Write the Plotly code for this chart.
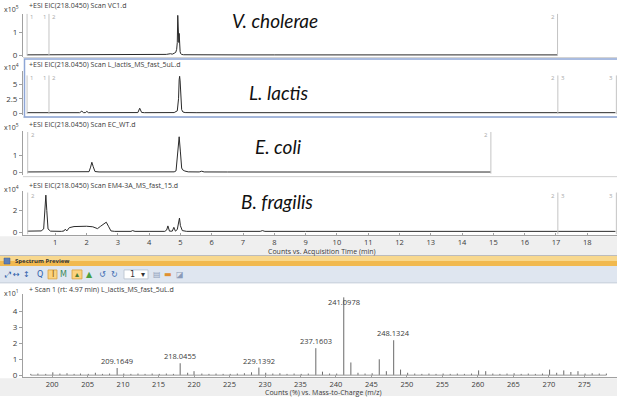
import plotly.graph_objects as go

W, H = 617, 399

# ---------------- data ----------------
# V. cholerae EIC (x10^5 counts)
vc_t = [0.10, 0.40, 0.80, 1.20, 1.60, 2.00, 2.40, 2.80, 3.20, 3.60,
        4.00, 4.30, 4.55, 4.68, 4.74, 4.80, 4.85, 4.88, 4.90, 4.915,
        4.925, 4.94, 4.95, 4.96, 4.975, 4.99, 5.01, 5.04, 5.10, 5.40,
        6.00, 7.00, 8.00, 9.00, 10.0, 11.0, 12.0, 13.0, 14.0, 15.0,
        16.0, 17.05]
vc_i = [0.01, 0.01, 0.012, 0.01, 0.012, 0.01, 0.012, 0.01, 0.012, 0.015,
        0.015, 0.02, 0.03, 0.06, 0.04, 0.08, 0.12, 0.25, 0.55, 1.74,
        0.75, 1.30, 0.55, 0.95, 0.35, 0.15, 0.06, 0.03, 0.015, 0.01,
        0.01, 0.008, 0.008, 0.008, 0.008, 0.008, 0.008, 0.008, 0.008, 0.008,
        0.008, 0.008]

# L. lactis EIC (x10^4 counts)
ll_t = [0.10, 0.50, 1.00, 1.50, 1.78, 1.85, 1.90, 1.96, 2.01, 2.06,
        2.50, 3.00, 3.50, 3.64, 3.70, 3.76, 3.85, 4.30, 4.80, 4.90,
        4.94, 4.96, 4.975, 4.99, 5.01, 5.04, 5.08, 5.15, 5.50, 6.50,
        8.00, 9.60, 10.0, 10.4, 12.0, 14.0, 16.0, 16.4, 16.6, 17.5,
        18.90]
ll_i = [0.08, 0.08, 0.08, 0.08, 0.08, 0.35, 0.10, 0.08, 0.30, 0.08,
        0.08, 0.08, 0.08, 0.10, 0.85, 0.12, 0.08, 0.08, 0.10, 0.40,
        2.50, 5.80, 6.40, 5.60, 2.20, 0.60, 0.20, 0.10, 0.08, 0.08,
        0.08, 0.10, 0.18, 0.10, 0.08, 0.08, 0.10, 0.18, 0.10, 0.08,
        0.08]

# E. coli EIC (x10^5 counts)
ec_t = [0.10, 0.50, 1.00, 1.20, 1.50, 2.00, 2.08, 2.13, 2.17, 2.21,
        2.27, 2.40, 3.00, 3.50, 4.00, 4.50, 4.80, 4.86, 4.91, 4.96,
        5.00, 5.04, 5.07, 5.10, 5.14, 5.25, 5.60, 5.68, 5.76, 6.50,
        8.00, 10.0, 12.0, 14.0, 14.92]
ec_i = [0.015, 0.012, 0.012, 0.02, 0.012, 0.015, 0.03, 0.30, 0.59, 0.35,
        0.04, 0.015, 0.012, 0.012, 0.012, 0.015, 0.02, 0.08, 1.00, 2.10,
        1.20, 0.25, 0.14, 0.10, 0.07, 0.02, 0.015, 0.06, 0.015, 0.012,
        0.012, 0.01, 0.01, 0.01, 0.01]

# B. fragilis EIC (x10^4 counts)
bf_t = [0.10, 0.30, 0.55, 0.63, 0.67, 0.70, 0.73, 0.77, 0.85, 1.00,
        1.20, 1.28, 1.32, 1.37, 1.45, 1.60, 1.80, 2.00, 2.20, 2.35,
        2.45, 2.55, 2.63, 2.70, 2.78, 2.90, 3.20, 3.42, 3.47, 3.55,
        4.00, 4.50, 4.56, 4.60, 4.65, 4.74, 4.79, 4.84, 4.90, 4.94,
        4.97, 5.00, 5.06, 5.20, 6.00, 7.00, 7.55, 7.62, 7.70, 9.00,
        11.0, 13.0, 15.0, 15.65, 15.75, 15.90, 16.0, 17.0, 18.90]
bf_i = [0.10, 0.12, 0.12, 0.30, 2.00, 3.40, 2.00, 0.30, 0.10, 0.08,
        0.08, 0.12, 0.28, 0.12, 0.42, 0.52, 0.55, 0.55, 0.50, 0.33,
        0.55, 0.80, 0.92, 0.55, 0.12, 0.08, 0.08, 0.08, 0.15, 0.08,
        0.08, 0.08, 0.20, 0.58, 0.10, 0.10, 0.45, 0.10, 0.25, 0.80,
        1.30, 0.60, 0.15, 0.08, 0.08, 0.08, 0.08, 0.15, 0.08, 0.08,
        0.08, 0.08, 0.08, 0.08, 0.14, 0.14, 0.08, 0.08, 0.08]

# segment markers (time, label left of line, label right of line)
vc_seg = [(0.10, "", "1"), (0.80, "1", "2"), (17.05, "2", "")]
ll_seg = [(0.10, "", "1"), (0.80, "1", "2"), (17.06, "2", "3"), (18.93, "3", "")]
ec_seg = [(0.12, "", "2"), (14.92, "2", "")]
bf_seg = [(0.12, "", "2"), (17.06, "2", "3"), (18.93, "3", "")]

time_ticks = list(range(1, 19))

# mass spectrum (Counts % x10^1)
ms_mz = [197.0, 198.0, 199.1, 200.1, 201.1, 202.1, 203.1, 204.0, 205.1, 206.1,
         207.1, 208.1, 209.1649, 210.1, 211.1, 212.1, 213.1, 214.1, 215.1, 216.1,
         217.1, 218.0455, 219.1, 220.0, 221.1, 222.1, 223.1, 224.1, 225.1, 226.1,
         227.1, 228.1, 229.1392, 230.1, 231.1, 232.1, 233.1, 234.1, 235.1, 236.1,
         237.1603, 238.1, 239.1, 240.1, 241.0978, 242.1, 243.1, 244.1, 245.1, 246.1,
         247.1, 248.1324, 249.1, 250.1, 251.1, 252.1, 253.1, 254.1, 255.1, 256.1,
         257.1, 258.1, 259.1, 260.1, 261.1, 262.1, 263.1, 264.1, 265.1, 266.1,
         267.1, 268.1, 269.1, 270.1, 271.1, 272.1, 273.1, 274.1, 275.1, 276.1,
         277.1, 278.1]
ms_int = [0.08, 0.10, 0.08, 0.18, 0.10, 0.12, 0.08, 0.10, 0.08, 0.15,
          0.08, 0.10, 0.45, 0.10, 0.08, 0.10, 0.08, 0.10, 0.08, 0.10,
          0.08, 0.75, 0.15, 0.25, 0.10, 0.08, 0.10, 0.08, 0.08, 0.10,
          0.12, 0.18, 0.48, 0.15, 0.10, 0.12, 0.08, 0.10, 0.08, 0.10,
          1.70, 0.22, 0.10, 0.10, 4.90, 0.80, 0.15, 0.10, 0.12, 1.00,
          0.25, 2.20, 0.35, 0.15, 0.10, 0.08, 0.10, 0.08, 0.10, 0.08,
          0.10, 0.08, 0.10, 0.30, 0.25, 0.10, 0.08, 0.10, 0.12, 0.08,
          0.10, 0.08, 0.10, 0.35, 0.15, 0.30, 0.20, 0.25, 0.10, 0.12,
          0.10, 0.10]
ms_labeled = ["209.1649", "218.0455", "229.1392", "237.1603", "241.0978", "248.1324"]
mz_ticks = list(range(200, 280, 5))

# ---------------- layout helpers ----------------
FONT = "Open Sans"
TXT = "#3a3a3a"
AX = "#a0a0a0"


def px(x):
    return x / W


def py(y):
    return 1 - y / H


def yrange(top, bottom, zero, ppu):
    return [-(bottom - zero) / ppu, (zero - top) / ppu]


panels = [
    dict(t=vc_t, i=vc_i, top=14, bottom=57, zero=55.5, ppu=23, ticks=[0, 1], tt=["0", "1"],
         exp="5", head="+ESI EIC(218.0450) Scan VC1.d", hy=6, seg=vc_seg, sy=17,
         name="V. cholerae", ny=21, nx=275),
    dict(t=ll_t, i=ll_i, top=72, bottom=116, zero=114, ppu=5.8, ticks=[0, 2.5, 5], tt=["0", "2.5", "5"],
         exp="4", head="+ESI EIC(218.0450) Scan L_lactis_MS_fast_5uL.d", hy=65, seg=ll_seg, sy=79,
         name="L. lactis", ny=93, nx=278),
    dict(t=ec_t, i=ec_i, top=132, bottom=176, zero=173.5, ppu=17, ticks=[0, 1], tt=["0", "1"],
         exp="5", head="+ESI EIC(218.0450) Scan EC_WT.d", hy=125, seg=ec_seg, sy=136,
         name="E. coli", ny=148, nx=278),
    dict(t=bf_t, i=bf_i, top=192, bottom=237, zero=234, ppu=11, ticks=[0, 2], tt=["0", "2"],
         exp="4", head="+ESI EIC(218.0450) Scan EM4-3A_MS_fast_15.d", hy=187, seg=bf_seg, sy=197,
         name="B. fragilis", ny=203, nx=277),
]

fig = go.Figure()
shapes = []
annotations = []
layout_axes = {}

# background strips (behind everything)
shapes.append(dict(type="rect", xref="paper", yref="paper", x0=0, x1=1, y0=py(257), y1=py(238),
                   fillcolor="#efefef", line=dict(width=0), layer="below"))
shapes.append(dict(type="rect", xref="paper", yref="paper", x0=0, x1=1, y0=0, y1=py(381),
                   fillcolor="#efefef", line=dict(width=0), layer="below"))

for k, p in enumerate(panels, start=1):
    xa = "x" if k == 1 else f"x{k}"
    ya = "y" if k == 1 else f"y{k}"
    fig.add_trace(go.Scatter(x=p["t"], y=p["i"], mode="lines", xaxis=xa, yaxis=ya,
                             line=dict(color="#2a2a2a", width=1), hoverinfo="skip", showlegend=False))
    xkey = "xaxis" if k == 1 else f"xaxis{k}"
    ykey = "yaxis" if k == 1 else f"yaxis{k}"
    last = (k == len(panels))
    layout_axes[xkey] = dict(domain=[px(23), 1], range=[-0.03, 18.95], anchor=ya,
                             showgrid=False, zeroline=False, fixedrange=True,
                             showline=last, linecolor=AX, linewidth=1,
                             ticks="inside" if last else "", ticklen=2, tickcolor=AX,
                             showticklabels=last, tickvals=time_ticks,
                             tickfont=dict(size=7.5, color=TXT, family=FONT))
    layout_axes[ykey] = dict(domain=[py(p["bottom"]), py(p["top"])],
                             range=yrange(p["top"], p["bottom"], p["zero"], p["ppu"]),
                             anchor=xa, showgrid=False, zeroline=False, fixedrange=True,
                             showline=True, linecolor=AX, linewidth=1,
                             ticks="outside", ticklen=3, tickcolor=AX,
                             tickvals=p["ticks"], ticktext=p["tt"],
                             tickfont=dict(size=8, color=TXT, family=FONT))
    # header + exponent
    annotations.append(dict(xref="paper", yref="paper", x=px(27), y=py(p["hy"]), text=p["head"],
                            showarrow=False, xanchor="left", yanchor="middle",
                            font=dict(size=7, color=TXT, family=FONT)))
    annotations.append(dict(xref="paper", yref="paper", x=px(2), y=py(p["hy"] + 3),
                            text="x10<sup>" + p["exp"] + "</sup>", showarrow=False,
                            xanchor="left", yanchor="middle", font=dict(size=7, color=TXT, family=FONT)))
    # organism label
    annotations.append(dict(xref="paper", yref="paper", x=px(p["nx"]), y=py(p["ny"]),
                            text="<i>" + p["name"] + "</i>", showarrow=False,
                            xanchor="center", yanchor="middle",
                            font=dict(size=19, color="#111111", family="Lato")))
    # segment markers
    for (t, lft, rgt) in p["seg"]:
        shapes.append(dict(type="line", xref=xa, yref="paper", x0=t, x1=t,
                           y0=py(p["bottom"] - 1), y1=py(p["sy"] - 3),
                           line=dict(color="#c4c4c4", width=1)))
        if lft:
            annotations.append(dict(xref=xa, yref="paper", x=t, y=py(p["sy"]), text=lft,
                                    showarrow=False, xanchor="right", xshift=-1, yanchor="middle",
                                    font=dict(size=6, color="#a8a8a8", family=FONT)))
        if rgt:
            annotations.append(dict(xref=xa, yref="paper", x=t, y=py(p["sy"]), text=rgt,
                                    showarrow=False, xanchor="left", xshift=1, yanchor="middle",
                                    font=dict(size=6, color="#a8a8a8", family=FONT)))

# panel separators
for yy in [58, 118, 178]:
    shapes.append(dict(type="line", xref="paper", yref="paper", x0=px(23), x1=1, y0=py(yy), y1=py(yy),
                       line=dict(color="#d0d0d0", width=1)))
# selected panel (blue frame)
shapes.append(dict(type="rect", xref="paper", yref="paper", x0=px(24.5), x1=1.01, y0=py(118), y1=py(59.5),
                   line=dict(color="#8ea6d6", width=1.5), fillcolor="rgba(0,0,0,0)"))

annotations.append(dict(xref="paper", yref="paper", x=px(322), y=py(253),
                        text="Counts vs. Acquisition Time (min)", showarrow=False,
                        xanchor="center", yanchor="middle", font=dict(size=7, color=TXT, family=FONT)))

# ---- Spectrum Preview window chrome ----
shapes.append(dict(type="line", xref="paper", yref="paper", x0=0, x1=1, y0=py(257.5), y1=py(257.5),
                   line=dict(color="#b8b8b8", width=1)))
shapes.append(dict(type="rect", xref="paper", yref="paper", x0=0, x1=1, y0=py(263), y1=py(258),
                   fillcolor="#f8d88e", line=dict(width=0)))
shapes.append(dict(type="rect", xref="paper", yref="paper", x0=0, x1=1, y0=py(268), y1=py(263),
                   fillcolor="#f1b94f", line=dict(width=0)))
shapes.append(dict(type="rect", xref="paper", yref="paper", x0=0, x1=1, y0=py(285), y1=py(268),
                   fillcolor="#dfe6f0", line=dict(width=0)))
shapes.append(dict(type="line", xref="paper", yref="paper", x0=0, x1=1, y0=py(285), y1=py(285),
                   line=dict(color="#c3ccd8", width=1)))
shapes.append(dict(type="rect", xref="paper", yref="paper", x0=px(4), x1=px(10), y0=py(266), y1=py(260),
                   fillcolor="#5d7fb8", line=dict(color="#3a5a90", width=0.5)))
annotations.append(dict(xref="paper", yref="paper", x=px(13), y=py(263), text="<b>Spectrum Preview</b>",
                        showarrow=False, xanchor="left", yanchor="middle",
                        font=dict(size=6, color="#333333", family=FONT)))
# toolbar highlighted buttons and spin box
for (a, b) in [(48, 57), (72, 82)]:
    shapes.append(dict(type="rect", xref="paper", yref="paper", x0=px(a), x1=px(b), y0=py(281), y1=py(272),
                       fillcolor="#fbd37f", line=dict(color="#d8a040", width=0.8)))
shapes.append(dict(type="rect", xref="paper", yref="paper", x0=px(124), x1=px(148), y0=py(281), y1=py(272),
                   fillcolor="#ffffff", line=dict(color="#b5bfcc", width=0.8)))
toolbar = [(7, "⤢", "#2d5ca8"), (16, "↔", "#2d5ca8"), (26, "↕", "#2d5ca8"), (40, "Q", "#2d5ca8"),
           (52.5, "I", "#8a5a10"), (63, "M", "#3a8a5a"), (77, "▴", "#4a7a30"), (89, "▲", "#4aa040"),
           (102, "↺", "#3a6ab0"), (114, "↻", "#3a6ab0"), (132, "1", "#333333"), (143, "▾", "#333333"),
           (157, "▤", "#8a9ab8"), (168, "▬", "#e09030"), (180, "◪", "#8a9ab8")]
for (x0, g, c) in toolbar:
    annotations.append(dict(xref="paper", yref="paper", x=px(x0), y=py(276.5), text=g, showarrow=False,
                            xanchor="center", yanchor="middle",
                            font=dict(size=8, color=c, family="DejaVu Sans")))

# ---- spectrum ----
sx, sy = [], []
for m, v in zip(ms_mz, ms_int):
    sx += [m, m, None]
    sy += [0, v, None]
fig.add_trace(go.Scatter(x=sx, y=sy, mode="lines", xaxis="x5", yaxis="y5",
                         line=dict(color="#6a6a6a", width=1), hoverinfo="skip", showlegend=False))
fig.add_trace(go.Scatter(x=[ms_mz[0], ms_mz[-1]], y=[0, 0], mode="lines", xaxis="x5", yaxis="y5",
                         line=dict(color="#9a9a9a", width=1), hoverinfo="skip", showlegend=False))
layout_axes["xaxis5"] = dict(domain=[px(23), 1], range=[195.9, 279.6], anchor="y5",
                             showgrid=False, zeroline=False, fixedrange=True,
                             showline=True, linecolor=AX, linewidth=1,
                             ticks="inside", ticklen=2, tickcolor=AX, tickvals=mz_ticks,
                             tickfont=dict(size=7.5, color=TXT, family=FONT))
layout_axes["yaxis5"] = dict(domain=[py(380), py(296)], range=yrange(296, 380, 378, 16), anchor="x5",
                             showgrid=False, zeroline=False, fixedrange=True,
                             showline=True, linecolor=AX, linewidth=1,
                             ticks="outside", ticklen=3, tickcolor=AX, tickvals=[0, 1, 2, 3, 4],
                             tickfont=dict(size=8, color=TXT, family=FONT))
for lab in ms_labeled:
    m = float(lab)
    v = ms_int[ms_mz.index(m)]
    big = v == max(ms_int)
    annotations.append(dict(xref="x5", yref="y5", x=m, y=v, text=lab, showarrow=False,
                            xanchor="center", yanchor="top" if big else "bottom",
                            yshift=2 if big else 0, bgcolor="rgba(255,255,255,0)",
                            font=dict(size=7.5, color=TXT, family=FONT)))
annotations.append(dict(xref="paper", yref="paper", x=px(27), y=py(292),
                        text="+ Scan 1 (rt: 4.97 min) L_lactis_MS_fast_5uL.d", showarrow=False,
                        xanchor="left", yanchor="middle", font=dict(size=7, color=TXT, family=FONT)))
annotations.append(dict(xref="paper", yref="paper", x=px(2), y=py(295), text="x10<sup>1</sup>",
                        showarrow=False, xanchor="left", yanchor="middle",
                        font=dict(size=7, color=TXT, family=FONT)))
annotations.append(dict(xref="paper", yref="paper", x=px(324), y=py(395),
                        text="Counts (%) vs. Mass-to-Charge (m/z)", showarrow=False,
                        xanchor="center", yanchor="middle", font=dict(size=7, color=TXT, family=FONT)))

fig.update_layout(width=W, height=H, margin=dict(l=0, r=0, t=0, b=0),
                  paper_bgcolor="#ffffff", plot_bgcolor="rgba(0,0,0,0)",
                  shapes=shapes, annotations=annotations, showlegend=False,
                  font=dict(family=FONT), **layout_axes)

fig.write_html("out.html", config={"displayModeBar": False, "staticPlot": True},
               post_script="document.body.style.margin='0px';document.body.style.overflow='hidden';")
